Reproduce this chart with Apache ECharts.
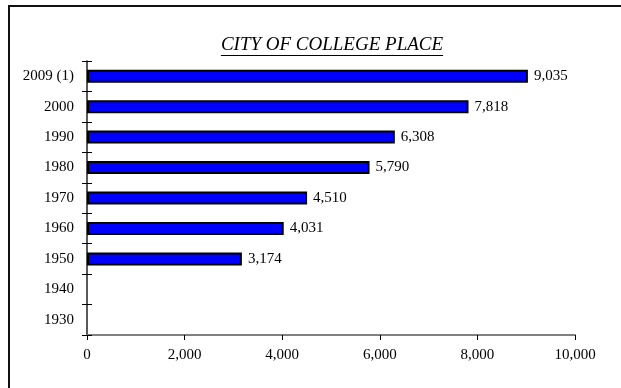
<!DOCTYPE html>
<html>
<head>
<meta charset="utf-8">
<style>
  html, body { margin: 0; padding: 0; background: #fff; }
  #chart { width: 621px; height: 388px; }
</style>
<script src="https://cdn.jsdelivr.net/npm/echarts@6/dist/echarts.min.js"></script>
</head>
<body>
<div id="chart"></div>
<script>
// Population by census year
const years = ['1930', '1940', '1950', '1960', '1970', '1980', '1990', '2000', '2009 (1)'];
const population = [null, null, 3174, 4031, 4510, 5790, 6308, 7818, 9035];
const titleText = 'CITY OF COLLEGE PLACE';
const xMin = 0, xMax = 10000, xStep = 2000;

const serif = '"Liberation Serif", "Times New Roman", serif';
const fmt = v => Number(v).toLocaleString('en-US');

// measure title width for the underline
const titleFont = 'italic 19px ' + serif;
const ctx = document.createElement('canvas').getContext('2d');
ctx.font = titleFont;
const titleW = ctx.measureText(titleText).width;
const titleCx = 332;

const chart = echarts.init(document.getElementById('chart'), null, { renderer: 'canvas' });
chart.setOption({
  animation: false,
  backgroundColor: '#fff',
  grid: { left: 87, right: 46, top: 61, bottom: 53, containLabel: false },
  xAxis: {
    type: 'value', min: xMin, max: xMax, interval: xStep,
    axisLine: { show: true, lineStyle: { color: '#808080', width: 2 } },
    axisTick: { show: true, length: 5, lineStyle: { color: '#000', width: 1 } },
    axisLabel: { color: '#000', fontFamily: serif, fontSize: 15, margin: 13, formatter: fmt },
    splitLine: { show: false }
  },
  yAxis: [
    {
      type: 'category', data: years, position: 'left',
      axisLine: { show: true, lineStyle: { color: '#222', width: 1.5 } },
      axisTick: { show: true, length: 5, lineStyle: { color: '#000', width: 1 } },
      axisLabel: { color: '#000', fontFamily: serif, fontSize: 15, margin: 13 }
    },
    {
      type: 'category', data: years, position: 'left',
      axisLine: { show: false },
      axisTick: { show: true, inside: true, length: 5, lineStyle: { color: '#000', width: 1 } },
      axisLabel: { show: false }
    }
  ],
  series: [{
    type: 'bar',
    yAxisIndex: 0,
    data: population,
    barWidth: 13,
    itemStyle: { color: '#0000ff', borderColor: '#000', borderWidth: 2 },
    label: {
      show: true, position: 'right', distance: 6,
      color: '#000', fontFamily: serif, fontSize: 15,
      formatter: p => fmt(p.value)
    }
  }],
  graphic: [
    {
      type: 'rect', silent: true,
      shape: { x: 9, y: 6, width: 800, height: 600 },
      style: { fill: 'none', stroke: '#111', lineWidth: 2 }
    },
    {
      type: 'text', silent: true,
      x: titleCx, y: 45,
      style: { text: titleText, font: titleFont, fill: '#000', align: 'center', verticalAlign: 'middle' }
    },
    {
      type: 'line', silent: true,
      shape: { x1: titleCx - titleW / 2, y1: 55.5, x2: titleCx + titleW / 2, y2: 55.5 },
      style: { stroke: '#000', lineWidth: 1 }
    }
  ]
});
</script>
</body>
</html>
